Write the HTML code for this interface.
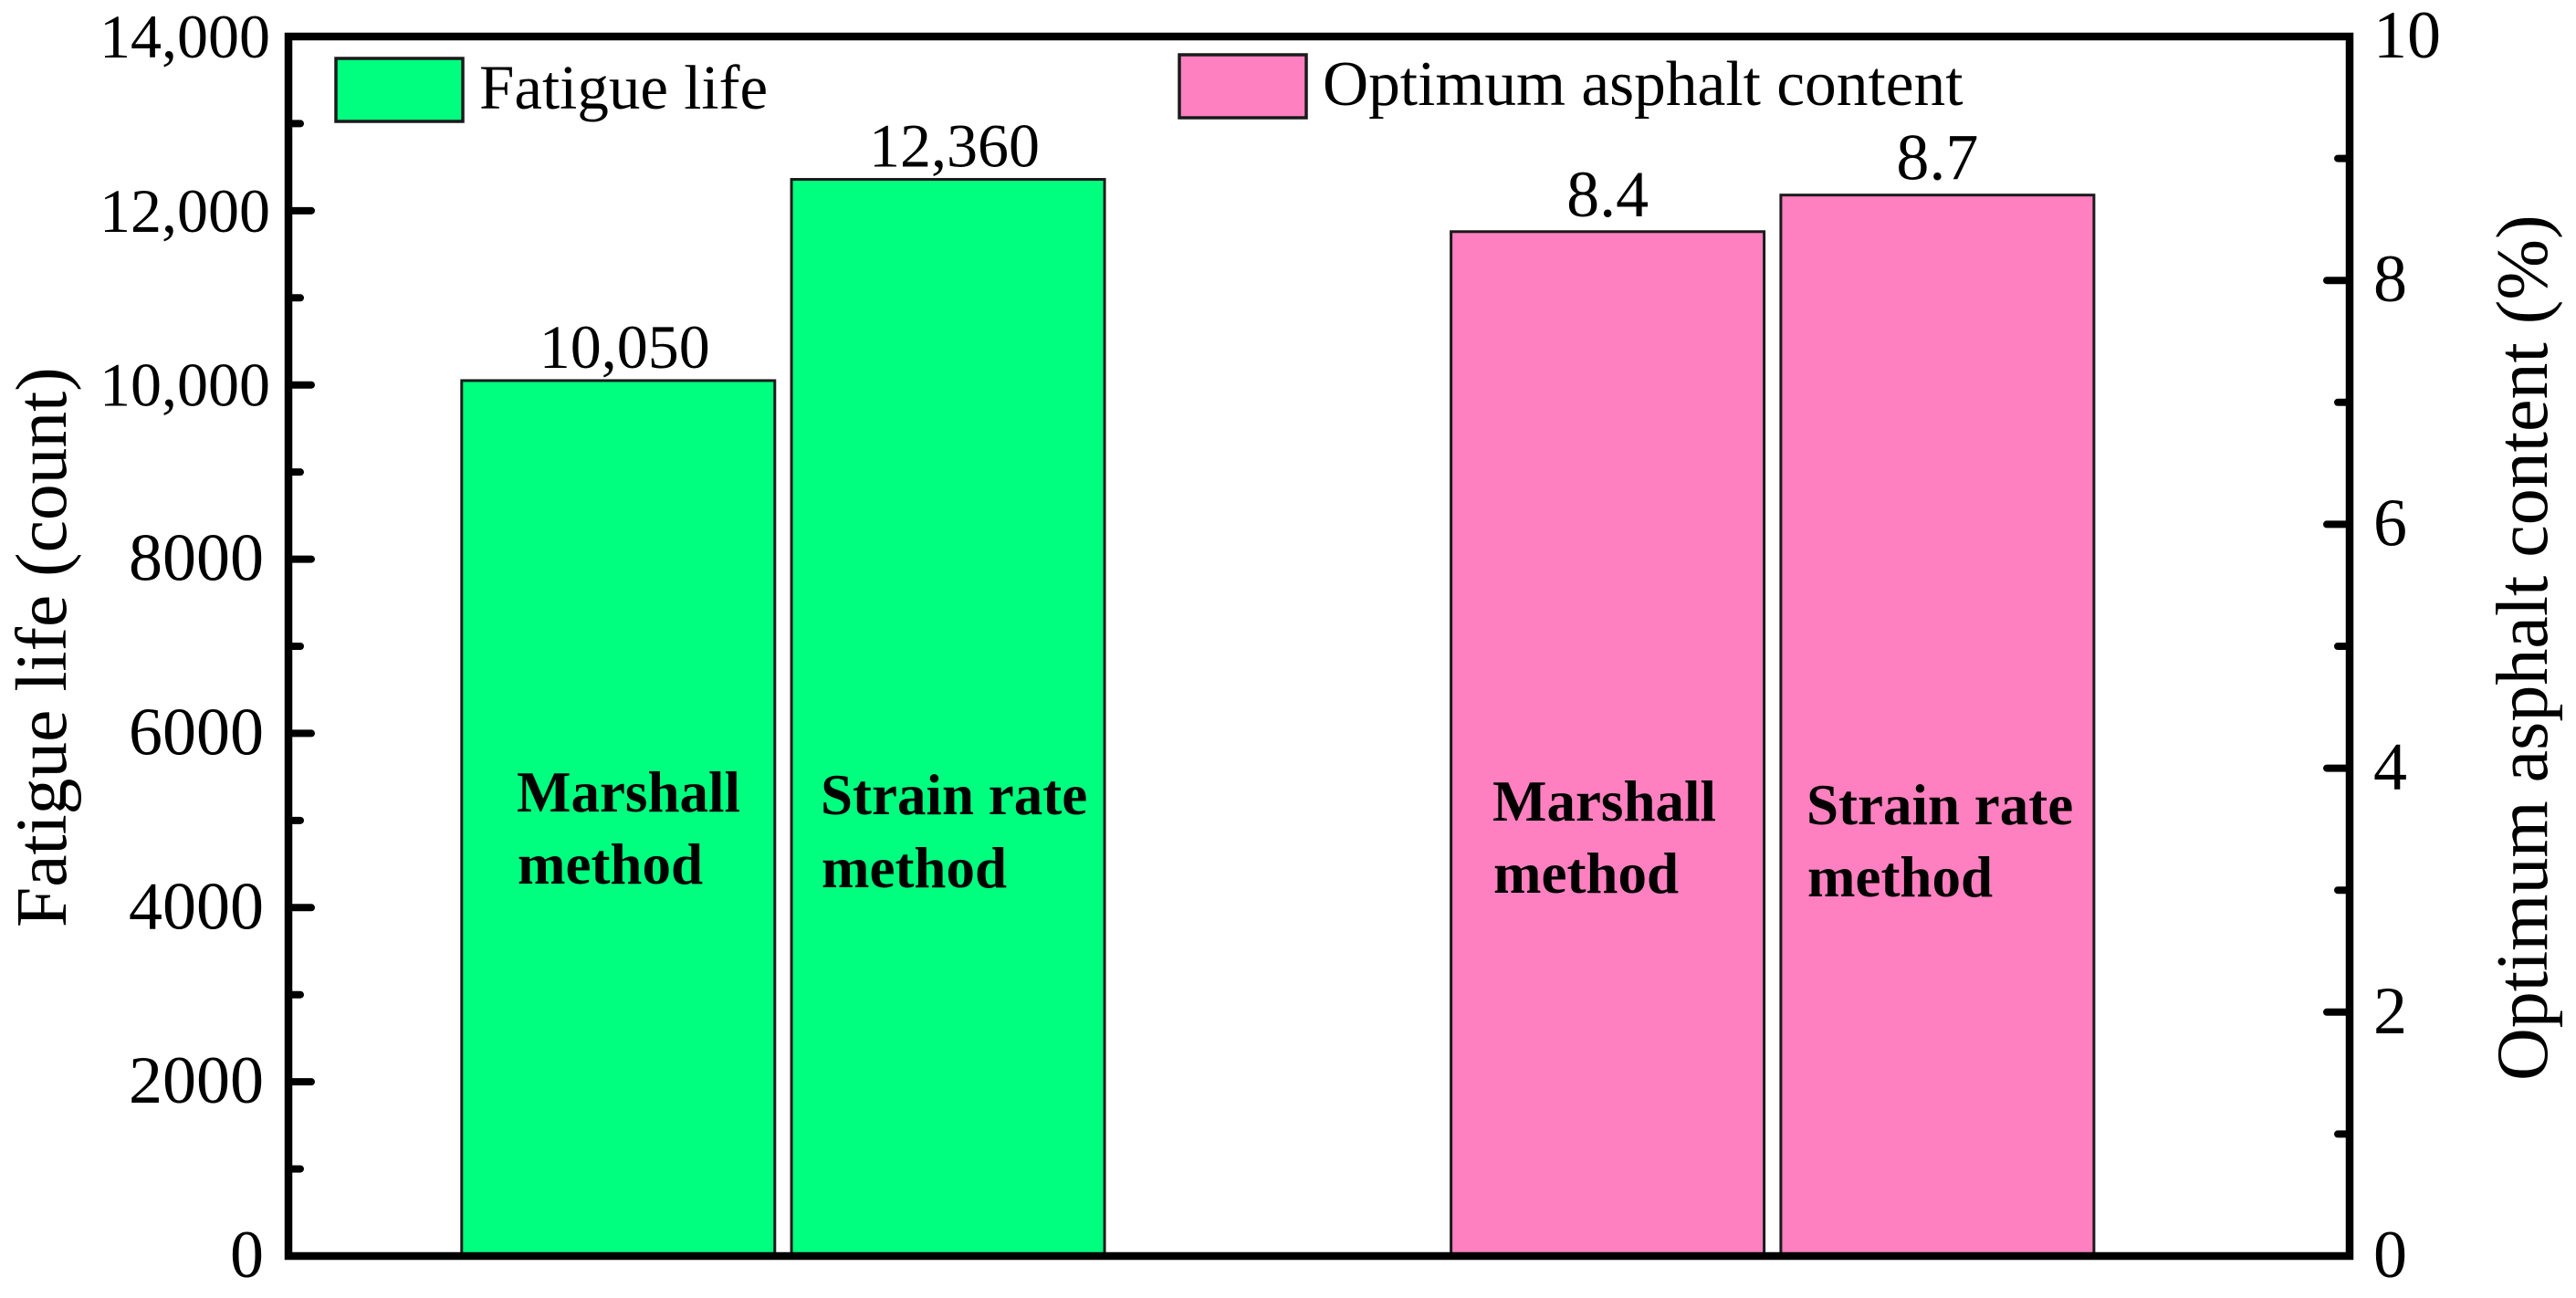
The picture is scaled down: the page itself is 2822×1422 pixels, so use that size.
<!DOCTYPE html>
<html lang="en">
<head>
<meta charset="utf-8">
<title>Fatigue life and optimum asphalt content</title>
<style>
html,body{margin:0;padding:0;background:#fff;width:2822px;height:1422px;overflow:hidden}
svg{display:block}
text{font-family:"Liberation Serif","Times New Roman",serif;fill:#000}
.bold{font-weight:bold;font-size:63px}
</style>
</head>
<body>
<svg id="chart" xmlns="http://www.w3.org/2000/svg" width="2822" height="1422" viewBox="0 0 2822 1422">
  <rect x="0" y="0" width="2822" height="1422" fill="#fff"/>
  <g id="bars"></g>
  <g id="ticks"></g>
  <rect x="316" y="40" width="2258" height="1336" fill="none" stroke="#000" stroke-width="8.5"/>
  <g id="tick-labels"></g>
  <g id="value-labels"></g>

  <text transform="translate(72,1016) rotate(-90)" font-size="79.5">Fatigue life (count)</text>
  <text transform="translate(2790,1184) rotate(-90)" font-size="80">Optimum asphalt content (%)</text>

  <g>
    <rect x="368" y="64" width="139" height="69" fill="#00FF7F" stroke="#1a1a1a" stroke-width="3.5"/>
    <text x="525" y="119" font-size="69">Fatigue life</text>
  </g>
  <g>
    <rect x="1292" y="60" width="139" height="69" fill="#FF80C0" stroke="#1a1a1a" stroke-width="3.5"/>
    <text x="1449" y="115" font-size="69.4">Optimum asphalt content</text>
  </g>

  <g>
    <text class="bold" x="566" y="889">Marshall</text>
    <text class="bold" x="567" y="968">method</text>
    <text class="bold" x="899" y="892">Strain rate</text>
    <text class="bold" x="900" y="972">method</text>
    <text class="bold" x="1635" y="899">Marshall</text>
    <text class="bold" x="1636" y="978">method</text>
    <text class="bold" x="1979" y="903">Strain rate</text>
    <text class="bold" x="1980" y="982">method</text>
  </g>
</svg>
<script>
const fatigueLifeValues = [10050, 12360];
const asphaltContentValues = [8.4, 8.7];
const fatigueLifeLabels = ['10,050', '12,360'];
const asphaltContentLabels = ['8.4', '8.7'];
const leftTickValues = [0, 2000, 4000, 6000, 8000, 10000, 12000, 14000];
const leftTickLabels = ['0', '2000', '4000', '6000', '8000', '10,000', '12,000', '14,000'];
const leftMinorTicks = [1000, 3000, 5000, 7000, 9000, 11000, 13000];
const rightTickValues = [0, 2, 4, 6, 8, 10];
const rightTickLabels = ['0', '2', '4', '6', '8', '10'];
const rightMinorTicks = [1, 3, 5, 7, 9];

const NS = 'http://www.w3.org/2000/svg';
const plotLeft = 316, plotRight = 2574, plotTop = 40, plotBottom = 1376;
const barWidth = 343;

function yLeft(v) { return plotBottom - (v / 14000) * (plotBottom - plotTop); }
function yRight(v) { return plotBottom - (v / 10) * (plotBottom - plotTop); }
function xSlot(s) { return plotLeft + (s / 6.25) * (plotRight - plotLeft); }

function make(tag, parentId, attrs, text) {
  const el = document.createElementNS(NS, tag);
  for (const k in attrs) el.setAttribute(k, attrs[k]);
  if (text !== undefined) el.textContent = text;
  document.getElementById(parentId).appendChild(el);
  return el;
}

function drawBars(values, labels, yFn, startSlot, fill, seriesName, labelDx, labelGap) {
  values.forEach(function (v, i) {
    const cx = xSlot(startSlot + i);
    const top = yFn(v);
    const bar = make('rect', 'bars', {
      x: cx - barWidth / 2, y: top, width: barWidth, height: plotBottom - top,
      fill: fill, stroke: '#1a1a1a', 'stroke-width': 3
    });
    
    
    const t = make('text', 'value-labels', {
      x: cx + labelDx, y: top - labelGap, 'text-anchor': 'middle', 'font-size': seriesName === 'fatigue-life' ? 68 : 72
    }, labels[i]);
    
    
  });
}

drawBars(fatigueLifeValues, fatigueLifeLabels, yLeft, 1, '#00FF7F', 'fatigue-life', 7, 14);
drawBars(asphaltContentValues, asphaltContentLabels, yRight, 4, '#FF80C0', 'asphalt-content', 0, 17);

function tick(x1, x2, y, name) {
  const l = make('line', 'ticks', {
    x1: x1, x2: x2, y1: y, y2: y, stroke: '#000', 'stroke-width': 8, 'stroke-linecap': 'round'
  });
  
  
}

leftTickValues.forEach(function (v, i) {
  const y = yLeft(v);
  if (v > 0 && v < 14000) tick(plotLeft, plotLeft + 25, y, 'left-major-tick-' + v);
  const wide = leftTickLabels[i].indexOf(',') >= 0;
  const t = make('text', 'tick-labels', {
    x: wide ? 296 : 289, y: y + 23, 'text-anchor': 'end', 'font-size': wide ? 68 : 74
  }, leftTickLabels[i]);
  
  
});
leftMinorTicks.forEach(function (v) { tick(plotLeft, plotLeft + 13, yLeft(v), 'left-minor-tick-' + v); });

rightTickValues.forEach(function (v, i) {
  const y = yRight(v);
  if (v > 0 && v < 10) tick(plotRight, plotRight - 25, y, 'right-major-tick-' + v);
  const t = make('text', 'tick-labels', { x: 2600, y: y + 23, 'font-size': 74 }, rightTickLabels[i]);
  
  
});
rightMinorTicks.forEach(function (v) { tick(plotRight, plotRight - 13, yRight(v), 'right-minor-tick-' + v); });
</script>
</body>
</html>
